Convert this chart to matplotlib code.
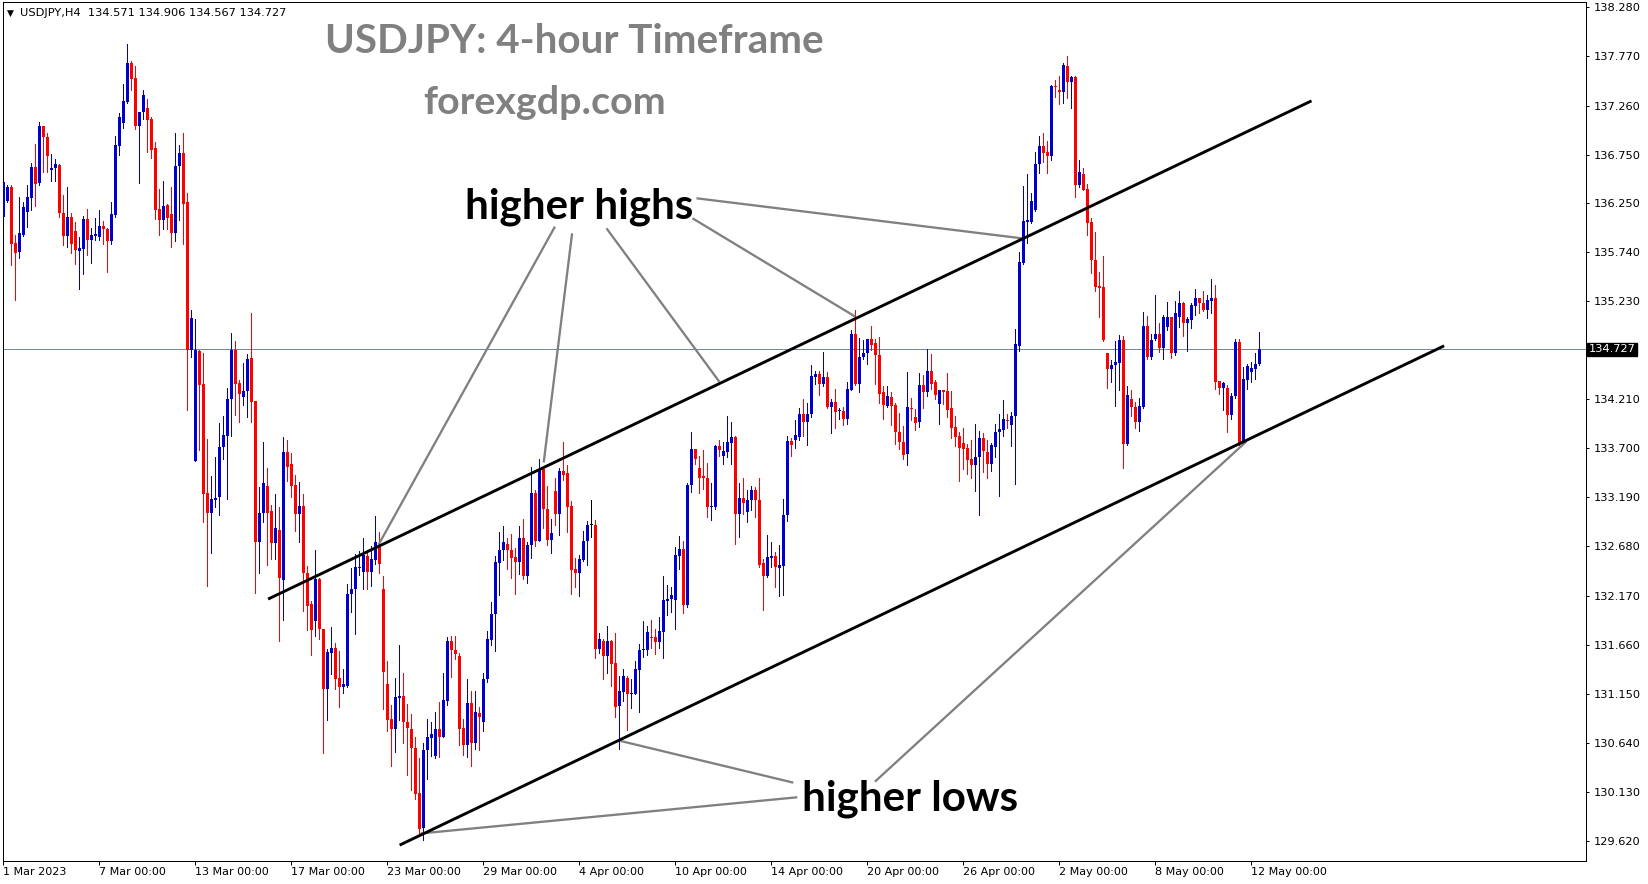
import matplotlib
matplotlib.use("Agg")
import matplotlib.pyplot as plt
import numpy as np

# ---------------- data: USDJPY H4 candles, 1 Mar 2023 -> 12 May 2023 ----------------
opens = [
    136.10, 136.27, 136.41, 135.83, 135.74, 135.92, 136.15, 136.30, 136.62, 136.46, 137.05, 136.93,
    136.59, 136.61, 136.64, 136.14, 135.90, 136.10, 135.96, 135.75, 135.77, 136.08, 135.86, 135.90,
    135.89, 136.01, 135.98, 135.85, 136.12, 136.84, 137.08, 137.30, 137.70, 137.55, 137.05, 137.19,
    137.23, 137.12, 136.82, 136.19, 136.07, 136.23, 136.13, 135.94, 136.63, 136.77, 136.26, 134.72,
    133.57, 134.71, 134.37, 133.23, 133.03, 133.16, 133.19, 133.71, 133.83, 134.21, 134.72, 134.38,
    134.23, 134.29, 134.64, 134.19, 132.73, 133.03, 133.31, 133.05, 132.72, 132.85, 132.33, 133.66,
    133.54, 133.32, 133.02, 133.10, 132.40, 132.08, 131.91, 132.34, 131.82, 131.20, 131.57, 131.62,
    131.31, 131.22, 131.23, 132.19, 132.24, 132.46, 132.41, 132.58, 132.41, 132.54, 132.69, 132.24,
    131.25, 130.89, 130.78, 131.11, 131.13, 130.86, 130.78, 130.59, 130.12, 129.75, 130.57, 130.69,
    130.50, 130.78, 130.70, 131.07, 131.70, 131.60, 131.54, 130.79, 130.62, 131.05, 130.64, 130.95,
    130.86, 131.30, 131.71, 131.98, 132.51, 132.64, 132.71, 132.64, 132.57, 132.52, 132.77, 132.37,
    132.70, 133.24, 132.74, 133.48, 133.07, 132.75, 133.26, 133.02, 133.46, 133.44, 133.10, 132.45,
    132.40, 132.54, 132.74, 132.90, 132.90, 131.61, 131.70, 131.54, 131.70, 131.47, 131.02, 131.17,
    131.31, 131.15, 131.15, 131.40, 131.60, 131.60, 131.74, 131.74, 131.69, 131.79, 132.11, 132.13,
    132.12, 132.58, 132.65, 132.07, 133.32, 133.69, 133.49, 133.41, 133.39, 133.09, 133.09, 133.72,
    133.62, 133.66, 133.75, 133.82, 133.02, 133.18, 133.04, 133.16, 133.27, 133.16, 132.51, 132.37,
    132.56, 132.58, 132.46, 132.48, 133.01, 133.78, 133.79, 133.82, 134.06, 133.97, 134.06, 134.44,
    134.47, 134.37, 134.44, 134.13, 134.18, 134.09, 134.09, 134.00, 134.31, 134.89, 134.37, 134.65,
    134.69, 134.84, 134.79, 134.67, 134.28, 134.14, 134.23, 134.15, 133.87, 133.77, 133.64, 134.12,
    134.02, 133.97, 134.36, 134.28, 134.50, 134.39, 134.16, 134.30, 134.29, 134.12, 133.92, 133.83,
    133.75, 133.70, 133.59, 133.53, 133.61, 133.81, 133.66, 133.54, 133.71, 133.87, 133.89, 133.99,
    133.94, 134.04, 134.76, 135.62, 136.05, 136.05, 136.17, 136.65, 136.84, 136.78, 136.74, 137.46,
    137.42, 137.40, 137.67, 137.50, 137.56, 136.44, 136.55, 136.39, 136.05, 135.66, 135.39, 135.38,
    134.69, 134.52, 134.57, 134.59, 134.82, 133.74, 134.21, 134.13, 133.97, 134.13, 134.97, 134.65,
    134.84, 134.89, 134.74, 134.96, 135.06, 134.69, 135.06, 135.21, 135.00, 135.03, 135.18, 135.26,
    135.21, 135.14, 135.23, 135.26, 134.40, 134.33, 134.33, 134.05, 134.24, 134.80, 133.75, 134.41,
    134.49, 134.52, 134.571,
]
highs = [
    136.50, 136.43, 136.44, 135.92, 136.31, 136.26, 136.44, 136.66, 136.86, 137.09, 137.05, 136.98,
    136.76, 136.70, 136.65, 136.33, 136.41, 136.14, 136.05, 135.89, 136.11, 136.19, 135.99, 136.09,
    136.18, 136.06, 135.99, 136.26, 136.94, 137.18, 137.48, 137.90, 137.72, 137.67, 137.19, 137.42,
    137.33, 137.14, 136.88, 136.39, 136.48, 136.24, 136.41, 136.97, 136.85, 136.98, 136.35, 135.14,
    135.04, 134.72, 134.69, 133.80, 133.41, 133.61, 133.96, 134.03, 134.33, 134.90, 134.81, 134.41,
    134.59, 134.68, 135.11, 134.19, 133.30, 133.76, 133.49, 133.11, 133.22, 133.09, 133.82, 133.79,
    133.65, 133.42, 133.35, 133.22, 132.48, 132.11, 132.64, 132.35, 131.82, 131.61, 131.84, 131.68,
    131.59, 131.41, 132.29, 132.46, 132.60, 132.63, 132.77, 132.62, 132.68, 133.00, 132.83, 132.37,
    131.49, 131.03, 131.31, 131.66, 131.36, 131.04, 130.94, 130.70, 130.48, 130.64, 130.89, 130.86,
    130.96, 131.06, 131.37, 131.74, 131.75, 131.75, 131.57, 130.89, 131.30, 131.18, 131.18, 131.01,
    131.36, 131.80, 132.10, 132.58, 132.83, 132.89, 132.77, 132.81, 132.66, 132.89, 132.97, 132.73,
    133.51, 133.27, 133.59, 133.49, 133.31, 132.96, 133.39, 133.49, 133.76, 133.53, 133.15, 132.56,
    132.59, 132.84, 132.94, 133.16, 132.95, 131.78, 131.72, 131.85, 131.71, 131.78, 131.33, 131.41,
    131.33, 131.30, 131.49, 131.67, 131.91, 131.85, 131.92, 131.82, 131.95, 132.37, 132.28, 132.26,
    132.67, 132.79, 132.74, 133.34, 133.87, 133.69, 133.62, 133.68, 133.55, 133.34, 133.73, 133.79,
    133.77, 134.04, 133.97, 133.83, 133.34, 133.39, 133.27, 133.31, 133.30, 133.39, 132.55, 132.80,
    132.73, 132.62, 132.70, 133.17, 133.83, 133.81, 133.99, 134.12, 134.21, 134.17, 134.57, 134.50,
    134.50, 134.70, 134.49, 134.21, 134.32, 134.12, 134.13, 134.39, 134.93, 135.14, 134.85, 134.82,
    134.84, 134.97, 134.84, 134.86, 134.35, 134.35, 134.28, 134.17, 134.07, 133.93, 134.49, 134.22,
    134.11, 134.48, 134.46, 134.73, 134.68, 134.41, 134.31, 134.31, 134.48, 134.29, 134.04, 133.87,
    133.91, 133.74, 133.79, 133.95, 133.88, 133.86, 133.79, 133.75, 133.95, 134.06, 134.20, 134.06,
    134.08, 134.94, 135.74, 136.42, 136.55, 136.35, 136.78, 136.94, 136.98, 136.89, 137.47, 137.53,
    137.57, 137.70, 137.77, 137.57, 137.57, 136.69, 136.61, 136.45, 136.09, 135.95, 135.53, 135.70,
    134.69, 134.62, 134.81, 134.88, 134.87, 134.35, 134.31, 134.18, 134.22, 135.12, 135.07, 134.89,
    135.29, 135.00, 135.08, 135.22, 135.06, 135.23, 135.33, 135.22, 135.06, 135.21, 135.35, 135.26,
    135.33, 135.29, 135.46, 135.40, 134.40, 134.39, 134.36, 134.27, 134.84, 134.84, 134.54, 134.58,
    134.60, 134.69, 134.906,
]
lows = [
    136.05, 136.26, 135.60, 135.24, 135.68, 135.91, 136.00, 136.18, 136.22, 136.43, 136.57, 136.57,
    136.48, 136.48, 136.10, 135.81, 135.79, 135.73, 135.61, 135.35, 135.51, 135.71, 135.62, 135.86,
    135.86, 135.82, 135.53, 135.82, 136.10, 136.75, 137.03, 137.29, 137.42, 137.02, 136.46, 137.12,
    136.78, 136.72, 136.08, 135.92, 135.98, 135.98, 135.79, 135.85, 136.07, 135.82, 134.10, 134.65,
    133.57, 133.68, 132.93, 132.27, 132.61, 133.09, 133.01, 133.59, 133.17, 133.83, 134.05, 133.97,
    134.15, 134.02, 133.97, 132.20, 132.40, 132.93, 132.49, 132.55, 132.55, 131.70, 131.92, 133.36,
    133.19, 132.84, 132.73, 132.01, 131.81, 131.55, 131.75, 131.72, 130.53, 130.88, 131.35, 131.20,
    131.01, 131.16, 131.22, 132.00, 131.77, 132.38, 132.24, 132.24, 132.27, 132.50, 132.40, 130.99,
    130.76, 130.40, 130.54, 130.88, 130.64, 130.31, 130.15, 130.06, 129.70, 129.63, 130.26, 130.50,
    130.48, 130.49, 130.70, 131.03, 131.32, 131.51, 130.62, 130.51, 130.49, 130.40, 130.58, 130.57,
    130.76, 131.27, 131.66, 131.59, 132.18, 132.54, 132.45, 132.35, 132.19, 132.39, 132.34, 132.30,
    132.56, 132.68, 132.74, 132.87, 132.70, 132.61, 132.90, 132.80, 133.37, 132.83, 132.19, 132.26,
    132.16, 132.53, 132.49, 132.78, 131.52, 131.57, 131.30, 131.37, 131.23, 130.91, 130.58, 131.07,
    130.77, 131.00, 131.15, 130.96, 131.53, 131.55, 131.63, 131.56, 131.63, 131.52, 131.97, 132.00,
    131.82, 132.45, 131.99, 132.05, 133.25, 133.54, 133.23, 133.28, 132.99, 132.95, 133.07, 133.62,
    133.54, 133.61, 133.54, 132.71, 132.78, 133.02, 132.93, 133.06, 132.99, 132.47, 132.02, 132.36,
    132.47, 132.26, 132.17, 132.18, 132.94, 133.62, 133.70, 133.79, 133.83, 133.73, 134.02, 134.37,
    134.25, 134.35, 134.12, 133.86, 133.91, 134.00, 133.94, 133.95, 134.31, 134.36, 134.28, 134.63,
    134.58, 134.72, 134.37, 134.17, 134.00, 134.13, 133.94, 133.74, 133.69, 133.59, 133.53, 133.99,
    133.89, 133.92, 134.12, 134.24, 134.32, 134.21, 133.95, 134.16, 134.02, 133.81, 133.72, 133.36,
    133.48, 133.43, 133.39, 133.26, 133.01, 133.45, 133.39, 133.46, 133.61, 133.20, 133.83, 133.91,
    133.72, 133.33, 134.71, 135.61, 135.83, 136.04, 136.16, 136.56, 136.67, 136.56, 136.69, 137.35,
    137.28, 137.29, 137.34, 137.23, 136.31, 136.41, 136.38, 135.92, 135.52, 135.33, 135.06, 134.81,
    134.33, 134.39, 134.14, 134.31, 133.49, 133.73, 134.03, 133.91, 133.88, 134.12, 134.63, 134.63,
    134.82, 134.70, 134.63, 134.93, 134.64, 134.67, 134.96, 134.87, 134.71, 134.95, 135.08, 135.10,
    135.13, 135.05, 135.10, 134.32, 134.26, 134.10, 133.87, 134.00, 134.22, 133.73, 133.75, 134.32,
    134.39, 134.42, 134.567,
]
closes = [
    136.47, 136.41, 135.82, 135.73, 135.94, 136.21, 136.31, 136.62, 136.45, 137.05, 136.93, 136.74,
    136.61, 136.65, 136.14, 135.90, 136.10, 135.82, 135.76, 135.78, 136.08, 135.86, 135.92, 135.93,
    136.01, 135.98, 135.85, 136.13, 136.85, 137.14, 137.31, 137.70, 137.54, 137.05, 137.19, 137.37,
    137.11, 136.80, 136.18, 136.07, 136.22, 136.09, 135.94, 136.63, 136.77, 136.24, 134.72, 135.05,
    134.72, 134.36, 133.22, 133.03, 133.17, 133.18, 133.71, 133.84, 134.21, 134.72, 134.37, 134.26,
    134.29, 134.63, 134.18, 132.73, 133.03, 133.34, 133.03, 132.72, 132.87, 132.35, 133.66, 133.51,
    133.31, 133.02, 133.10, 132.40, 132.06, 131.81, 132.34, 131.82, 131.20, 131.58, 131.63, 131.30,
    131.22, 131.25, 132.19, 132.24, 132.47, 132.47, 132.59, 132.41, 132.55, 132.73, 132.50, 131.38,
    130.88, 130.78, 131.12, 131.13, 130.86, 130.79, 130.59, 130.11, 129.74, 130.57, 130.70, 130.73,
    130.78, 130.70, 131.08, 131.70, 131.60, 131.56, 130.78, 130.62, 131.05, 130.64, 130.96, 130.91,
    131.30, 131.72, 131.98, 132.52, 132.64, 132.73, 132.64, 132.56, 132.52, 132.77, 132.37, 132.70,
    133.24, 132.74, 133.48, 133.07, 132.75, 132.82, 133.02, 133.46, 133.42, 133.09, 132.44, 132.40,
    132.55, 132.74, 132.90, 132.90, 131.61, 131.72, 131.54, 131.70, 131.46, 131.01, 131.18, 131.33,
    131.15, 131.16, 131.41, 131.60, 131.61, 131.79, 131.73, 131.69, 131.80, 132.12, 132.13, 132.18,
    132.59, 132.65, 132.07, 133.32, 133.69, 133.59, 133.39, 133.39, 133.09, 133.10, 133.72, 133.68,
    133.67, 133.76, 133.82, 133.02, 133.18, 133.13, 133.16, 133.27, 133.16, 132.49, 132.37, 132.57,
    132.58, 132.47, 132.49, 133.01, 133.78, 133.73, 133.84, 134.06, 133.97, 134.06, 134.45, 134.47,
    134.37, 134.44, 134.13, 134.18, 134.08, 134.10, 134.00, 134.32, 134.89, 134.37, 134.65, 134.69,
    134.83, 134.77, 134.67, 134.26, 134.15, 134.24, 134.14, 133.87, 133.76, 133.63, 134.13, 134.11,
    133.96, 134.36, 134.28, 134.50, 134.37, 134.25, 134.31, 134.28, 134.10, 133.91, 133.82, 133.70,
    133.69, 133.58, 133.53, 133.61, 133.81, 133.67, 133.54, 133.73, 133.87, 133.90, 134.00, 133.98,
    134.04, 134.78, 135.63, 136.06, 136.07, 136.27, 136.65, 136.84, 136.77, 136.74, 137.46, 137.45,
    137.40, 137.68, 137.50, 137.56, 136.44, 136.57, 136.38, 136.04, 135.66, 135.38, 135.37, 134.82,
    134.52, 134.57, 134.60, 134.82, 133.74, 134.25, 134.13, 133.97, 134.14, 134.97, 134.65, 134.82,
    134.89, 134.74, 135.06, 135.06, 134.69, 135.11, 135.21, 135.00, 135.04, 135.19, 135.26, 135.21,
    135.14, 135.24, 135.26, 134.39, 134.33, 134.38, 134.05, 134.24, 134.80, 133.75, 134.42, 134.55,
    134.53, 134.58, 134.727,
]

date_labels = ["1 Mar 2023", "7 Mar 00:00", "13 Mar 00:00", "17 Mar 00:00", "23 Mar 00:00",
               "29 Mar 00:00", "4 Apr 00:00", "10 Apr 00:00", "14 Apr 00:00", "20 Apr 00:00",
               "26 Apr 00:00", "2 May 00:00", "8 May 00:00", "12 May 00:00"]
bars_per_label = 24

price_ticks = [138.280, 137.770, 137.260, 136.750, 136.250, 135.740, 135.230, 134.210,
               133.700, 133.190, 132.680, 132.170, 131.660, 131.150, 130.640, 130.130, 129.620]

symbol = "USDJPY,H4"
last_bar = (134.571, 134.906, 134.567, 134.727)
current_price = 134.727

# channel lines: (bar index, price) anchors
upper_channel = [(66.2, 132.133), (327.05, 137.309)]
lower_channel = [(99.08, 129.577), (360.2, 134.764)]

# pointer lines from the labels to the touches: ((bar, price) start, (bar, price) end)
highs_pointers = [((137.9, 136.002), (93.8, 132.697)),
                  ((142.2, 135.933), (135.1, 133.552)),
                  ((150.8, 135.985), (179.0, 134.391)),
                  ((172.3, 136.089), (213.0, 135.067)),
                  ((173.3, 136.297), (254.6, 135.881))]
lows_pointers = [((197.5, 130.226), (154.3, 130.659)),
                 ((198.5, 130.074), (104.35, 129.698)),
                 ((217.9, 130.236), (310.7, 133.768))]
highs_label_pos = (115.4, 136.089)
lows_label_pos = (199.6, 129.935)

# ---------------- figure ----------------
W, H = 1649, 884
fig = plt.figure(figsize=(W / 100, H / 100), dpi=100)
fig.patch.set_facecolor("white")

left_px, right_px, top_px, bottom_px = 2.7, 1585.7, 1.7, 860.7
ax = fig.add_axes([left_px / W, 1 - bottom_px / H, (right_px - left_px) / W, (bottom_px - top_px) / H])
ax.set_facecolor("white")

PX = 0.72  # one pixel in points

o = np.array(opens)
h = np.array(highs)
l = np.array(lows)
c = np.array(closes)
idx = np.arange(len(o))

BULL = "#0000CD"
BEAR = "#FF0000"
colors = np.where(c > o, BULL, np.where(c < o, BEAR, "#000000"))

# wicks
ax.vlines(idx, l, h, colors=colors, linewidth=1.0 * PX, antialiased=False, zorder=2)
# bodies (a flat body still shows as a one pixel line)
body_low = np.minimum(o, c)
body_h = np.maximum(np.abs(c - o), 0.011)
ax.bar(idx, body_h, bottom=body_low, width=0.75, color=colors, linewidth=0,
       antialiased=False, zorder=3)

# current price line
ax.axhline(current_price, color="#778899", linewidth=1.0 * PX, zorder=1)

# channel lines
for line in (upper_channel, lower_channel):
    xs, ys = zip(*line)
    ax.plot(xs, ys, color="black", linewidth=2.9 * PX, solid_capstyle="butt", zorder=5)

GREY = "#808080"
for (a, b) in highs_pointers + lows_pointers:
    ax.plot([a[0], b[0]], [a[1], b[1]], color=GREY, linewidth=2.3 * PX,
            solid_capstyle="butt", zorder=4)

ax.text(highs_label_pos[0], highs_label_pos[1], "higher highs", fontfamily="Lato",
        fontweight="bold", fontsize=30.3, color="black", ha="left", va="baseline", zorder=6)
ax.text(lows_label_pos[0], lows_label_pos[1], "higher lows", fontfamily="Lato",
        fontweight="bold", fontsize=30.3, color="black", ha="left", va="baseline", zorder=6)

# axes limits: 4 px per bar, price scale from the right-hand axis
ax.set_xlim((left_px - 3.3) / 4, (right_px - 3.3) / 4)
px_per_price = 1 / 0.010389
ax.set_ylim(138.28 - (bottom_px - 7.4) / px_per_price, 138.28 + (7.4 - top_px) / px_per_price)

for sp in ax.spines.values():
    sp.set_color("black")
    sp.set_linewidth(1.0 * PX)

AXFONT = dict(fontfamily="DejaVu Sans", fontsize=8)

# price axis on the right
ax.yaxis.tick_right()
ax.set_yticks(price_ticks)
ax.set_yticklabels([f"{v:.3f}" for v in price_ticks], fontfamily="DejaVu Sans", fontsize=8.2)
ax.tick_params(axis="y", direction="out", length=3 * PX, width=1.0 * PX, pad=3.5, colors="black")

# time axis
xt = [i * bars_per_label for i in range(len(date_labels))]
ax.set_xticks(xt)
ax.set_xticklabels(date_labels, **AXFONT)
for t in ax.get_xticklabels():
    t.set_ha("left")
ax.tick_params(axis="x", direction="out", length=4 * PX, width=1.0 * PX, pad=2, colors="black")

# current price tag
ax.text(1.0 + 3.0 / (right_px - left_px), current_price, f"{current_price:.3f}",
        transform=ax.get_yaxis_transform(), color="white", va="center", ha="left",
        bbox=dict(boxstyle="square,pad=0.14", fc="black", ec="black"), zorder=10,
        fontfamily="DejaVu Sans", fontsize=8.2)

# header line
fig.text(6.5 / W, 1 - 13 / H, "\u25BC", fontfamily="DejaVu Sans", fontsize=6.5,
         va="center", ha="left", color="black")
fig.text(20.5 / W, 1 - 13 / H,
         f"{symbol}  {last_bar[0]:.3f} {last_bar[1]:.3f} {last_bar[2]:.3f} {last_bar[3]:.3f}",
         va="center", ha="left", color="black", fontfamily="DejaVu Sans", fontsize=8.2)

# titles
fig.text(574 / W, 1 - 52.7 / H, "USDJPY: 4-hour Timeframe", fontfamily="Lato",
         fontweight="bold", fontsize=29.1, color=GREY, ha="center", va="baseline")
fig.text(544.5 / W, 1 - 114 / H, "forexgdp.com", fontfamily="Lato",
         fontweight="bold", fontsize=28.4, color=GREY, ha="center", va="baseline")

fig.savefig("out.png", dpi=100, facecolor="white")
